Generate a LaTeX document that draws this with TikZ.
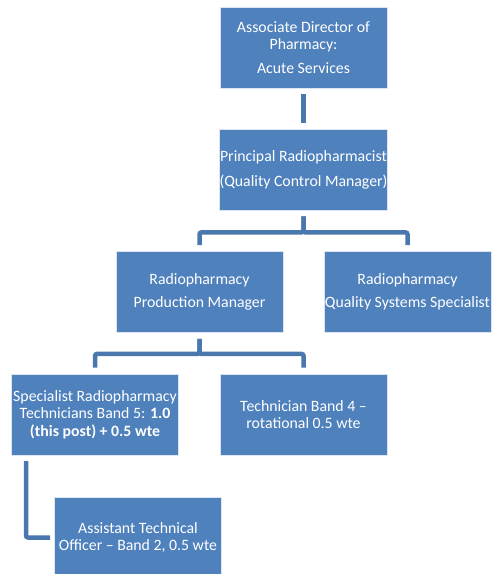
\documentclass[tikz,border=0pt]{standalone}
\usepackage{fontspec}
\setmainfont{Carlito}
\definecolor{boxblue}{HTML}{4F81BD}
\definecolor{lineblue}{HTML}{4A77AE}
\definecolor{edgeblue}{HTML}{DCE6F2}
\tikzstyle{post}=[rectangle,fill=boxblue,draw=edgeblue,line width=0.8pt,text=white,align=center,inner xsep=0pt,minimum width=167pt,minimum height=81pt,font=\fontsize{15.8}{17.5}\selectfont]
\tikzstyle{link}=[draw=lineblue,line width=4.5pt,rounded corners=2pt,shorten <=6pt,shorten >=6pt]

\begin{document}
\begin{tikzpicture}[x=1pt,y=-1pt]
		\useasboundingbox (0,0) rectangle (491,574);

		\node (dir) at (303.5,47.5) [post] {Associate Director of\\Pharmacy:\\[6.5pt]Acute Services};
		\node (prin) at (303.5,169.5) [post] {Principal Radiopharmacist\\[7.5pt](Quality Control Manager)};
		\node (prod) at (199.5,292) [post] {Radiopharmacy\\[5.5pt]Production Manager};
		\node (qss) at (407.5,292) [post] {Radiopharmacy\\[5.5pt]Quality Systems Specialist};
		\node (spec) at (95,414.5) [post] {Specialist Radiopharmacy\\Technicians Band 5: \textbf{1.0}\\\textbf{(this post) + 0.5 wte}};
		\node (tech) at (303.5,414.5) [post] {Technician Band 4 --\\rotational 0.5 wte};
		\node (ato) at (138,537.5) [post] {Assistant Technical\\Officer -- Band 2, 0.5 wte};
		\coordinate (bend) at (26,455);

		\draw [link] (dir)-- (prin);
		\draw [link] (prin.south)-- ++(0,22) -| (prod.north);
		\draw [link] (prin.south)-- ++(0,22) -| (qss.north);
		\draw [link] (prod.south)-- ++(0,21) -| (spec.north);
		\draw [link] (prod.south)-- ++(0,21) -| (tech.north);
		\draw [link,shorten >=4pt] (bend) |- (ato.west);
	\end{tikzpicture}
\end{document}
